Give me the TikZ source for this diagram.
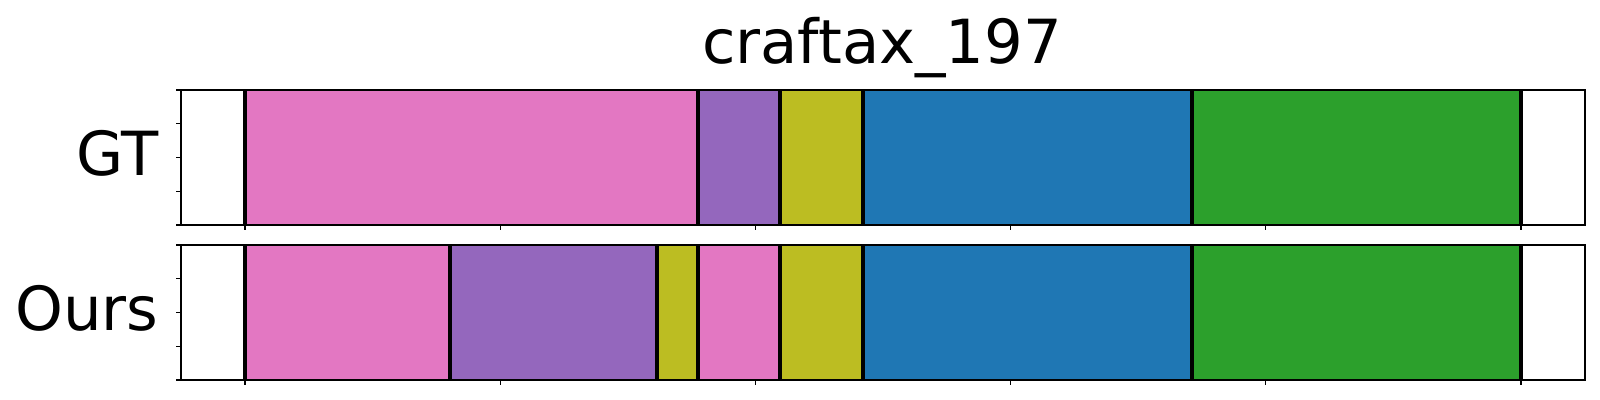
\documentclass[tikz,border=0pt]{standalone}
\usepackage{fontspec}
\setmainfont{DejaVu Sans}
\definecolor{tabpink}{HTML}{E377C2}
\definecolor{tabpurple}{HTML}{9467BD}
\definecolor{tabolive}{HTML}{BCBD22}
\definecolor{tabblue}{HTML}{1F77B4}
\definecolor{tabgreen}{HTML}{2CA02C}
\begin{document}
\begin{tikzpicture}[x=0.01cm, y=-0.01cm, bigtext/.style = {font=\fontsize{17.3}{18}\selectfont, inner sep=0pt}, spine/.style = {line width=0.32pt}, cut/.style = {line width=1.3pt}]
        \useasboundingbox (0,0) rectangle (1600,400);
        \node[bigtext, anchor=base] (title) at (882,63) {craftax\_197};
        \node[bigtext, anchor=base east] (gt) at (159,175) {GT};
        \node[bigtext, anchor=base east] (ours) at (159,330) {Ours};
        \foreach \xa/\xb/\c in {245/698/tabpink, 698/780/tabpurple, 780/863/tabolive, 863/1192/tabblue, 1192/1521/tabgreen}
            \fill[\c] (\xa,90) rectangle (\xb,225);
        \foreach \xa/\xb/\c in {245/450/tabpink, 450/657/tabpurple, 657/698/tabolive, 698/780/tabpink, 780/863/tabolive, 863/1192/tabblue, 1192/1521/tabgreen}
            \fill[\c] (\xa,245) rectangle (\xb,380);
        \foreach \x in {245,698,780,863,1192,1521}
            \draw[cut] (\x,90) -- (\x,225);
        \foreach \x in {245,450,657,698,780,863,1192,1521}
            \draw[cut] (\x,245) -- (\x,380);
        \foreach \y in {90,245} {
            \draw[spine] (181,\y) rectangle (1585,\y+135);
            \foreach \t in {0,...,4}
                \draw[spine] (181,\y+\t*33.75) -- ++(-5,0);
            \foreach \t in {0,...,5}
                \draw[spine] (245+\t*255.2,\y+135) -- ++(0,5);
        }
    \end{tikzpicture}
\end{document}
